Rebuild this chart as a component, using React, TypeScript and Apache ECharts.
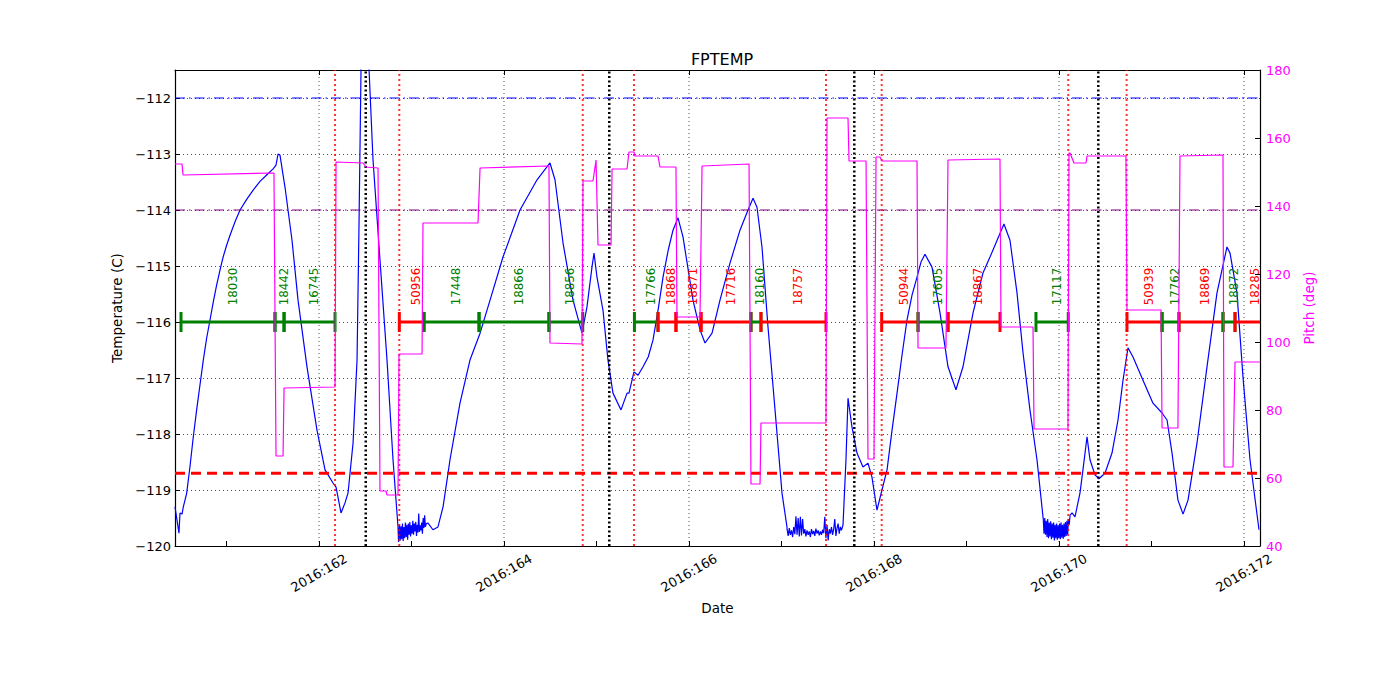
import React, { useEffect, useRef } from "react";
import * as echarts from "echarts";

const X_MIN = 160.443;
const X_MAX = 172.173;
const T_MIN = -120;
const T_MAX = -111.5;

// x-axis ticks (day of year) and labelled days
const tickDays = [161, 162, 163, 164, 165, 166, 167, 168, 169, 170, 171, 172];
const labelDays = [162, 164, 166, 168, 170, 172];

// FPTEMP (C)
const temperatureC: [number, number][] = [
  [160.443, -119.3], [160.486, -119.77], [160.497, -119.41], [160.519, -119.43], [160.533, -119.3],
  [160.569, -119.06], [160.605, -118.58], [160.641, -118.05], [160.677, -117.57], [160.713, -117.125],
  [160.749, -116.68], [160.785, -116.29], [160.822, -115.96], [160.857, -115.64], [160.893, -115.34],
  [160.93, -115.07], [160.965, -114.83], [161.002, -114.625], [161.038, -114.45], [161.092, -114.21],
  [161.146, -114.0], [161.218, -113.81], [161.29, -113.64], [161.362, -113.49], [161.434, -113.375],
  [161.506, -113.26], [161.535, -113.2], [161.557, -113.0],
  [161.578, -113.02], [161.632, -113.59], [161.708, -114.54], [161.773, -115.61], [161.87, -116.8],
  [161.978, -117.93], [162.065, -118.64], [162.151, -118.875], [162.184, -118.95], [162.238, -119.41],
  [162.281, -119.23], [162.314, -119.05], [162.368, -118.16], [162.411, -116.68], [162.432, -114.3],
  [162.454, -111.5], [162.49, -110.6], [162.541, -111.5], [162.584, -113.11], [162.659, -114.89],
  [162.735, -116.68], [162.8, -118.46], [162.854, -119.66],
  [162.86, -119.93], [162.87, -119.62], [162.878, -119.9], [162.886, -119.65], [162.894, -119.88],
  [162.902, -119.6], [162.91, -119.91], [162.918, -119.66], [162.926, -119.86], [162.934, -119.58],
  [162.942, -119.84], [162.95, -119.62], [162.958, -119.89], [162.966, -119.6], [162.974, -119.8],
  [162.982, -119.57], [162.99, -119.83], [162.998, -119.63], [163.006, -119.78], [163.014, -119.55],
  [163.022, -119.8], [163.03, -119.6], [163.038, -119.74], [163.046, -119.57], [163.054, -119.82],
  [163.062, -119.62], [163.07, -119.76], [163.078, -119.42], [163.086, -119.75], [163.094, -119.63],
  [163.102, -119.72], [163.11, -119.58], [163.118, -119.78], [163.126, -119.5], [163.134, -119.68],
  [163.142, -119.45], [163.15, -119.66], [163.16, -119.6],
  [163.178, -119.59], [163.232, -119.71], [163.286, -119.66], [163.341, -119.3], [163.395, -118.7],
  [163.416, -118.46], [163.524, -117.45], [163.632, -116.68], [163.741, -116.2], [163.849, -115.61],
  [163.989, -114.84], [164.173, -114.0], [164.357, -113.46], [164.497, -113.16], [164.551, -113.46],
  [164.638, -114.59], [164.746, -115.61], [164.843, -116.2], [164.897, -115.73], [164.951, -115.02],
  [164.973, -114.77], [165.005, -115.2], [165.07, -115.79], [165.124, -116.68], [165.178, -117.27],
  [165.265, -117.57], [165.33, -117.27], [165.351, -117.27], [165.405, -116.89], [165.449, -116.95],
  [165.503, -116.8], [165.56, -116.62], [165.611, -116.32], [165.668, -115.76], [165.719, -115.2],
  [165.776, -114.71], [165.827, -114.36], [165.881, -114.14],
  [165.935, -114.48], [166.043, -115.61], [166.119, -116.14], [166.173, -116.375], [166.249, -116.2],
  [166.335, -115.61], [166.443, -114.95], [166.551, -114.36], [166.638, -114.0], [166.692, -113.79],
  [166.735, -113.95], [166.789, -114.66], [166.854, -116.09], [166.93, -117.57], [167.005, -119.05],
  [167.059, -119.66],
  [167.06, -119.7], [167.072, -119.82], [167.084, -119.68], [167.096, -119.8], [167.108, -119.72],
  [167.12, -119.84], [167.132, -119.66], [167.144, -119.79], [167.156, -119.47], [167.168, -119.8],
  [167.18, -119.5], [167.192, -119.83], [167.204, -119.48], [167.216, -119.81], [167.228, -119.52],
  [167.24, -119.78], [167.252, -119.7], [167.264, -119.83], [167.276, -119.72], [167.288, -119.8],
  [167.3, -119.74], [167.312, -119.84], [167.324, -119.7], [167.336, -119.79], [167.348, -119.73],
  [167.36, -119.82], [167.372, -119.69], [167.384, -119.78], [167.396, -119.72], [167.408, -119.81],
  [167.42, -119.74], [167.432, -119.8], [167.444, -119.71], [167.456, -119.77], [167.468, -119.48],
  [167.48, -119.86], [167.492, -119.62], [167.504, -119.9], [167.516, -119.7], [167.528, -119.78],
  [167.54, -119.66], [167.552, -119.8], [167.564, -119.7], [167.576, -119.52], [167.588, -119.82],
  [167.6, -119.68], [167.612, -119.6], [167.624, -119.78], [167.636, -119.66], [167.648, -119.72],
  [167.665, -119.62],
  [167.697, -118.46], [167.719, -117.36], [167.762, -117.875], [167.816, -118.34], [167.881, -118.59],
  [167.935, -118.52], [167.978, -118.77], [168.032, -119.36], [168.086, -119.0], [168.141, -118.64],
  [168.195, -117.93], [168.249, -117.27], [168.303, -116.59], [168.357, -115.96], [168.411, -115.52],
  [168.465, -115.2], [168.508, -114.93], [168.551, -114.79], [168.627, -115.02],
  [168.714, -115.84], [168.8, -116.8], [168.886, -117.21], [168.962, -116.8], [169.07, -115.84],
  [169.178, -115.125], [169.254, -114.84], [169.405, -114.25], [169.47, -114.54], [169.546, -115.48],
  [169.611, -116.55], [169.686, -117.57], [169.762, -118.46], [169.827, -119.48],
  [169.83, -119.52], [169.838, -119.78], [169.846, -119.5], [169.854, -119.8], [169.862, -119.55],
  [169.87, -119.84], [169.878, -119.52], [169.886, -119.86], [169.894, -119.58], [169.902, -119.83],
  [169.91, -119.56], [169.918, -119.88], [169.926, -119.6], [169.934, -119.85], [169.942, -119.58],
  [169.95, -119.9], [169.958, -119.62], [169.966, -119.86], [169.974, -119.6], [169.982, -119.89],
  [169.99, -119.63], [169.998, -119.86], [170.006, -119.6], [170.014, -119.88], [170.022, -119.58],
  [170.03, -119.85], [170.038, -119.62], [170.046, -119.87], [170.054, -119.6], [170.062, -119.84],
  [170.07, -119.57], [170.078, -119.82], [170.086, -119.55], [170.094, -119.8], [170.102, -119.52],
  [170.11, -119.62], [170.12, -119.45],
  [170.141, -119.41], [170.173, -119.48], [170.227, -119.05], [170.259, -118.64], [170.303, -118.05],
  [170.335, -118.46], [170.389, -118.73], [170.432, -118.8], [170.497, -118.7], [170.573, -118.34],
  [170.638, -117.75], [170.692, -117.04], [170.746, -116.46], [170.8, -116.625], [170.908, -117.04],
  [171.016, -117.45], [171.114, -117.625], [171.168, -117.75], [171.222, -118.34], [171.286, -119.18],
  [171.341, -119.43], [171.395, -119.18], [171.492, -118.16], [171.6, -116.8], [171.708, -115.48],
  [171.816, -114.66], [171.849, -114.77], [171.924, -115.48], [171.989, -116.98], [172.065, -118.46],
  [172.162, -119.71],
];

// Pitch (deg)
const pitchDeg: [number, number][] = [
  [160.443, 152.35], [160.519, 152.35], [160.53, 149.12], [161.513, 149.71], [161.535, 66.47],
  [161.611, 66.47], [161.622, 86.47], [162.173, 86.76], [162.184, 152.94], [162.476, 152.65],
  [162.508, 151.47], [162.638, 151.18], [162.659, 56.18], [162.724, 56.18], [162.735, 55.0],
  [162.854, 55.0], [162.865, 96.47], [163.114, 96.47], [163.124, 135.0], [163.719, 135.0],
  [163.741, 151.18], [164.486, 151.76], [164.497, 99.71], [164.843, 99.41], [164.854, 147.35],
  [164.962, 147.35], [164.995, 153.53], [165.016, 128.53], [165.157, 128.53], [165.168, 150.88],
  [165.33, 150.88], [165.351, 155.88], [165.405, 155.88], [165.416, 154.71], [165.665, 154.71],
  [165.686, 151.47], [165.859, 151.47], [165.87, 107.35], [166.119, 107.35], [166.141, 151.76],
  [166.649, 152.35], [166.67, 58.24], [166.768, 58.24], [166.778, 76.18], [167.481, 76.18],
  [167.492, 165.88], [167.719, 165.88], [167.73, 153.24], [167.914, 153.24], [167.935, 65.59],
  [168.0, 65.59], [168.022, 154.41], [168.065, 154.41], [168.086, 153.24], [168.465, 153.24],
  [168.476, 98.24], [168.778, 98.24], [168.8, 153.53], [169.362, 153.82], [169.373, 104.41],
  [169.719, 104.41], [169.73, 74.41], [170.097, 74.41], [170.108, 155.59], [170.119, 155.59],
  [170.162, 152.65], [170.292, 152.65], [170.303, 154.71], [170.724, 154.71], [170.735, 109.41],
  [171.103, 109.41], [171.114, 74.71], [171.286, 74.71], [171.308, 154.71], [171.773, 155.0],
  [171.784, 63.24], [171.881, 63.24], [171.903, 94.12], [172.173, 94.12],
];

// Observation segments
const obsids = [18030, 18442, 16745, 50956, 17448, 18866, 18856, 17766, 18868, 18871, 17716, 18160,
  18757, 50944, 17605, 18867, 17117, 50939, 17762, 18869, 18872, 18285];
const segStarts = [160.508, 161.524, 161.622, 162.868, 163.135, 163.73, 164.486, 165.41, 165.665,
  165.859, 166.13, 166.67, 166.778, 168.083, 168.476, 168.8, 169.751, 170.735, 171.114, 171.297,
  171.773, 171.903];
const segEnds = [161.524, 161.622, 162.173, 163.135, 163.73, 164.486, 164.851, 165.665, 165.859,
  166.13, 166.67, 166.778, 167.481, 168.476, 168.8, 169.362, 170.1, 171.114, 171.297, 171.773,
  171.903, 172.24];
const segKinds = ["G", "G", "G", "R", "G", "G", "G", "G", "R", "R", "R", "G", "R", "R", "G", "R",
  "G", "R", "G", "R", "G", "R"];
const SEG_LEVEL = -116;
const LABEL_LEVEL = -115.7;

// Reference lines
const planLimit = -112;
const warnLimit = -114;
const minLimit = -118.7;
const redEventDays = [162.173, 162.868, 164.851, 165.405, 167.481, 168.083, 170.1, 170.731];
const blackEventDays = [162.505, 165.138, 167.787, 170.425];

const FONT = "DejaVu Sans";

export default function App() {
  const ref = useRef<HTMLDivElement>(null);
  useEffect(() => {
    if (!ref.current) return;
    const chart = echarts.init(ref.current, undefined, { renderer: "svg" });
    const vLine = (d: number, color: string, width: number, dash: number[], z: number) => ({
      type: "line",
      xAxisIndex: 0,
      yAxisIndex: 0,
      data: [[d, T_MIN], [d, T_MAX]],
      showSymbol: false,
      symbol: "none",
      silent: true,
      z,
      lineStyle: { color, width, type: dash },
    });
    const hLine = (v: number, color: string, width: number, dash: number[], z: number) => ({
      type: "line",
      xAxisIndex: 0,
      yAxisIndex: 0,
      data: [[X_MIN, v], [X_MAX, v]],
      showSymbol: false,
      symbol: "none",
      silent: true,
      z,
      lineStyle: { color, width, type: dash },
    });
    const series: any[] = [];
    labelDays.forEach((d) => series.push(vLine(d, "#222", 0.8, [1, 3], 1)));
    series.push({
      type: "line",
      name: "FPTEMP",
      xAxisIndex: 0,
      yAxisIndex: 0,
      data: temperatureC,
      showSymbol: false,
      symbol: "none",
      clip: true,
      z: 3,
      lineStyle: { color: "#0000ff", width: 1.2 },
    });
    series.push(hLine(planLimit, "#0000ff", 1, [10, 4, 1.5, 4], 4));
    series.push(hLine(warnLimit, "#800080", 1, [10, 4, 1.5, 4], 4));
    series.push(hLine(minLimit, "#ff0000", 3, [10, 6], 4));
    redEventDays.forEach((d) => series.push(vLine(d, "rgba(255,0,0,0.8)", 2, [2, 3], 4)));
    blackEventDays.forEach((d) => series.push(vLine(d, "#000", 2.5, [2, 2.5], 4)));
    series.push({
      type: "custom",
      xAxisIndex: 0,
      yAxisIndex: 0,
      clip: true,
      z: 5,
      silent: true,
      encode: { x: 0, y: 1 },
      data: segStarts.map((s, i) => [s, SEG_LEVEL, segEnds[i]]),
      renderItem: (params: any, api: any) => {
        const i = params.dataIndex;
        const s = api.value(0);
        const e = api.value(2);
        const color = segKinds[i] === "G" ? "#008000" : "#ff0000";
        const a = api.coord([s, SEG_LEVEL]);
        const b = api.coord([e, SEG_LEVEL]);
        const lab = api.coord([(s + e) / 2, LABEL_LEVEL]);
        const st = { stroke: color, lineWidth: 3 };
        return {
          type: "group",
          children: [
            { type: "line", shape: { x1: a[0], y1: a[1], x2: b[0], y2: b[1] }, style: st },
            { type: "line", shape: { x1: a[0], y1: a[1] - 10, x2: a[0], y2: a[1] + 10 }, style: st },
            { type: "line", shape: { x1: b[0], y1: b[1] - 10, x2: b[0], y2: b[1] + 10 }, style: st },
            {
              type: "text",
              x: lab[0] + 4.5,
              y: lab[1],
              rotation: Math.PI / 2,
              style: {
                text: String(obsids[i]),
                fill: color,
                fontSize: 11.8,
                fontFamily: FONT,
                align: "left",
                verticalAlign: "middle",
              },
            },
          ],
        };
      },
    });
    series.push({
      type: "line",
      name: "Pitch",
      xAxisIndex: 0,
      yAxisIndex: 1,
      data: pitchDeg,
      showSymbol: false,
      symbol: "none",
      clip: true,
      z: 6,
      lineStyle: { color: "#ff00ff", width: 1.2 },
    });

    chart.setOption({
      animation: false,
      backgroundColor: "#ffffff",
      textStyle: { fontFamily: FONT },
      title: {
        text: "FPTEMP",
        left: 717,
        top: 46,
        textAlign: "center",
        textStyle: { fontSize: 16, fontWeight: "normal", color: "#000", fontFamily: FONT },
      },
      grid: { left: 175, right: 140, top: 70, bottom: 154, containLabel: false },
      xAxis: [
        {
          type: "value",
          position: "bottom",
          min: X_MIN,
          max: X_MAX,
          name: "Date",
          nameLocation: "middle",
          nameGap: 54,
          nameTextStyle: { fontSize: 13.5, color: "#000", fontFamily: FONT },
          axisLine: { show: true, onZero: false, lineStyle: { color: "#000", width: 1.2 } },
          axisTick: { show: true, inside: true, length: 5, customValues: tickDays, lineStyle: { color: "#000" } },
          axisLabel: {
            show: true,
            customValues: labelDays,
            formatter: (v: number) => "2016:" + Math.round(v),
            rotate: 30,
            align: "center",
            verticalAlign: "middle",
            margin: 27,
            fontSize: 13,
            color: "#000",
            fontFamily: FONT,
          },
          splitLine: { show: false },
        },
        {
          type: "value",
          position: "top",
          min: X_MIN,
          max: X_MAX,
          axisLine: { show: true, onZero: false, lineStyle: { color: "#000", width: 1.2 } },
          axisTick: { show: true, inside: true, length: 5, customValues: labelDays, lineStyle: { color: "#000" } },
          axisLabel: { show: false },
          splitLine: { show: false },
        },
      ],
      yAxis: [
        {
          type: "value",
          position: "left",
          min: T_MIN,
          max: T_MAX,
          interval: 1,
          name: "Temperature (C)",
          nameLocation: "middle",
          nameGap: 48,
          nameTextStyle: { fontSize: 13.5, color: "#000", fontFamily: FONT },
          axisLine: { show: true, onZero: false, lineStyle: { color: "#000", width: 1.2 } },
          axisTick: { show: true, inside: true, length: 5, lineStyle: { color: "#000" } },
          axisLabel: {
            margin: 4,
            fontSize: 13,
            color: "#000",
            fontFamily: FONT,
            formatter: (v: number) => (Number.isInteger(v) && v < T_MAX ? String(v).replace("-", "\u2212") : ""),
          },
          splitLine: { show: true, lineStyle: { color: "#222", width: 0.8, type: [1, 3] } },
        },
        {
          type: "value",
          position: "right",
          min: 40,
          max: 180,
          interval: 20,
          name: "Pitch (deg)",
          nameLocation: "middle",
          nameGap: 34,
          nameTextStyle: { fontSize: 13.5, color: "#ff00ff", fontFamily: FONT },
          axisLine: { show: true, onZero: false, lineStyle: { color: "#000", width: 1.2 } },
          axisTick: { show: true, inside: true, length: 5, lineStyle: { color: "#000" } },
          axisLabel: { margin: 6, fontSize: 13, color: "#ff00ff", fontFamily: FONT },
          splitLine: { show: false },
        },
      ],
      series,
    });
    return () => chart.dispose();
  }, []);
  return (
    <div
      ref={ref}
      style={{ position: "fixed", left: 0, top: 0, width: 1400, height: 700, background: "#fff" }}
    />
  );
}
